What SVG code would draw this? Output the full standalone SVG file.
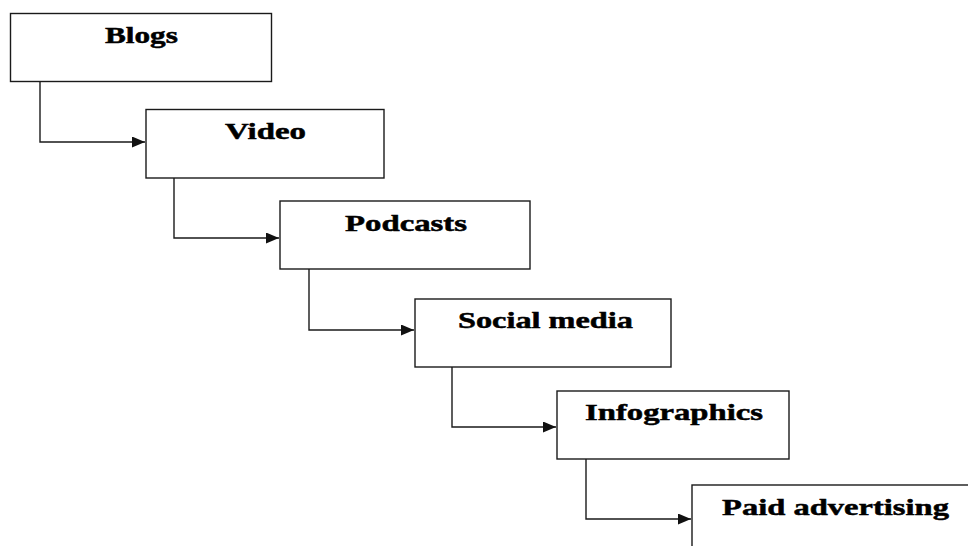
<svg xmlns="http://www.w3.org/2000/svg" width="968" height="546" viewBox="0 0 968 546">
<defs>
<style>
.box{fill:#fff;stroke:#1a1a1a;stroke-width:1.4}
.lbl{font-family:"Liberation Serif","Times New Roman",serif;font-weight:bold;font-size:24px;fill:#000;stroke:#000;stroke-width:0.5}
.con{fill:none;stroke:#1a1a1a;stroke-width:1.4}
</style>
<marker id="arr" markerUnits="userSpaceOnUse" markerWidth="14" markerHeight="11" refX="13" refY="5.5" orient="auto">
<path d="M0,0 L13,5.5 L0,11 z" fill="#111"/>
</marker>
</defs>
<rect width="968" height="546" fill="#fff"/>
<g id="connectors">
<path class="con" d="M40,81 V142 H145" marker-end="url(#arr)"/>
<path class="con" d="M174,178 V238 H279" marker-end="url(#arr)"/>
<path class="con" d="M309,269 V330 H414" marker-end="url(#arr)"/>
<path class="con" d="M452,367 V427 H556" marker-end="url(#arr)"/>
<path class="con" d="M586,459 V519 H691" marker-end="url(#arr)"/>
</g>
<g id="node-blogs">
<rect class="box" x="10.5" y="13.5" width="261" height="68"/>
<text class="lbl" transform="translate(105,42.5) scale(1.35,1)" textLength="54" lengthAdjust="spacingAndGlyphs">Blogs</text>
</g>
<g id="node-video">
<rect class="box" x="146" y="109.5" width="238" height="68.5"/>
<text class="lbl" transform="translate(225,139) scale(1.35,1)" textLength="60" lengthAdjust="spacingAndGlyphs">Video</text>
</g>
<g id="node-podcasts">
<rect class="box" x="280" y="201" width="250" height="68"/>
<text class="lbl" transform="translate(345,231) scale(1.35,1)" textLength="90.4" lengthAdjust="spacingAndGlyphs">Podcasts</text>
</g>
<g id="node-social">
<rect class="box" x="415" y="299" width="256" height="68"/>
<text class="lbl" transform="translate(458,328) scale(1.35,1)" textLength="129.6" lengthAdjust="spacingAndGlyphs">Social media</text>
</g>
<g id="node-infographics">
<rect class="box" x="557" y="391" width="232" height="68"/>
<text class="lbl" transform="translate(585,420) scale(1.35,1)" textLength="131.9" lengthAdjust="spacingAndGlyphs">Infographics</text>
</g>
<g id="node-paid">
<rect class="box" x="692" y="485" width="300" height="100"/>
<text class="lbl" transform="translate(722,515) scale(1.35,1)" textLength="168.1" lengthAdjust="spacingAndGlyphs">Paid advertising</text>
</g>
</svg>
